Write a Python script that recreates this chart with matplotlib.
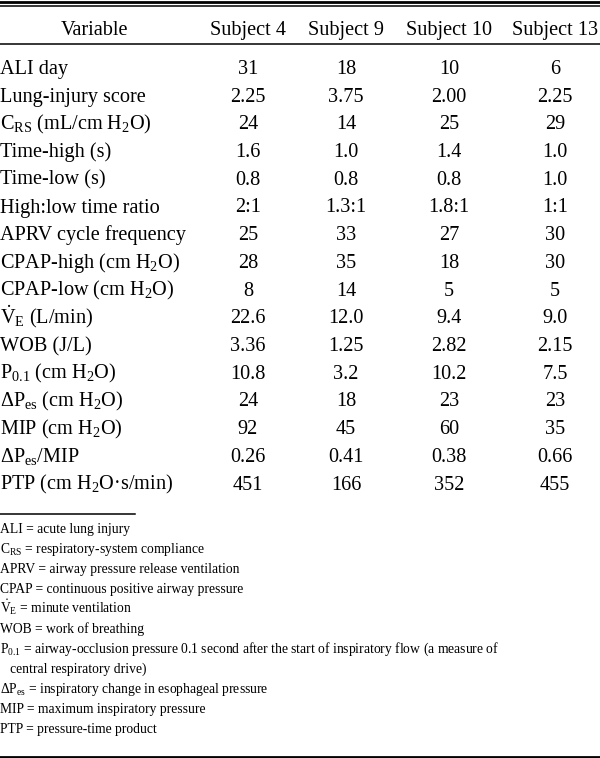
import matplotlib
matplotlib.use("Agg")
import matplotlib.pyplot as plt

plt.rcParams['font.family'] = ['Liberation Serif', 'DejaVu Serif']
plt.rcParams['mathtext.fontset'] = 'custom'
plt.rcParams['mathtext.rm'] = 'Liberation Serif'
plt.rcParams['mathtext.it'] = 'Liberation Serif:italic'
plt.rcParams['mathtext.bf'] = 'Liberation Serif:bold'

# column headers
headers = ['Variable', 'Subject 4', 'Subject 9', 'Subject 10', 'Subject 13']

# row labels
variables = [
    'ALI day',
    'Lung-injury score',
    r'C$_{\mathrm{RS}}$ (mL/cm H$_{2}$O)',
    'Time-high (s)',
    'Time-low (s)',
    'High:low time ratio',
    'APRV cycle frequency',
    r'CPAP-high (cm H$_{2}$O)',
    r'CPAP-low (cm H$_{2}$O)',
    r'$\dot{\mathrm{V}}_{\mathrm{E}}$ (L/min)',
    'WOB (J/L)',
    r'P$_{0.1}$ (cm H$_{2}$O)',
    r'ΔP$_{\mathrm{es}}$ (cm H$_{2}$O)',
    r'MIP (cm H$_{2}$O)',
    r'ΔP$_{\mathrm{es}}$/MIP',
    r'PTP (cm H$_{2}$O·s/min)',
]

# values per subject (kept as printed)
subject4 = ['31', '2.25', '24', '1.6', '0.8', '2:1', '25', '28', '8', '22.6',
            '3.36', '10.8', '24', '92', '0.26', '451']
subject9 = ['18', '3.75', '14', '1.0', '0.8', '1.3:1', '33', '35', '14', '12.0',
            '1.25', '3.2', '18', '45', '0.41', '166']
subject10 = ['10', '2.00', '25', '1.4', '0.8', '1.8:1', '27', '18', '5', '9.4',
             '2.82', '10.2', '23', '60', '0.38', '352']
subject13 = ['6', '2.25', '29', '1.0', '1.0', '1:1', '30', '30', '5', '9.0',
             '2.15', '7.5', '23', '35', '0.66', '455']

# footnotes (abbreviations)
footnotes = [
    'ALI = acute lung injury',
    r'C$_{\mathrm{RS}}$ = respiratory-system compliance',
    'APRV = airway pressure release ventilation',
    'CPAP = continuous positive airway pressure',
    r'$\dot{\mathrm{V}}_{\mathrm{E}}$ = minute ventilation',
    'WOB = work of breathing',
    r'P$_{0.1}$ = airway-occlusion pressure 0.1 second after the start of inspiratory flow (a measure of',
    '   central respiratory drive)',
    r'ΔP$_{\mathrm{es}}$ = inspiratory change in esophageal pressure',
    'MIP = maximum inspiratory pressure',
    'PTP = pressure-time product',
]

W, H = 600, 758
fig = plt.figure(figsize=(W / 100, H / 100), dpi=100)
fig.patch.set_facecolor('white')


def px(x, y):
    return x / W, 1 - y / H


def hline(y, x0=0, x1=W, lw=1.0):
    fig.add_artist(plt.Line2D([x0 / W, x1 / W], [1 - y / H, 1 - y / H],
                              color='black', lw=lw, transform=fig.transFigure))


# rules
hline(1.5, lw=2.0)
hline(6, lw=1.1)
hline(43.5, lw=1.1)
hline(514, 0, 135, lw=1.1)
hline(756.5, lw=2.0)

fs = 14.6
col_x = [95, 248, 346, 449, 555]

# header
for cx, h in zip(col_x, headers):
    fig.text(*px(cx, 35), h, ha='center', va='baseline', fontsize=fs)

# body
columns = [subject4, subject9, subject10, subject13]
row0, dy = 74, 27.7
for i, var in enumerate(variables):
    y = row0 + i * dy
    fig.text(*px(0, y), var, ha='left', va='baseline', fontsize=fs)
    for cx, col in zip(col_x[1:], columns):
        fig.text(*px(cx, y), col[i], ha='center', va='baseline', fontsize=fs)

# footnotes
f0, fdy = 533.5, 19.95
for i, note in enumerate(footnotes):
    fig.text(*px(0, f0 + i * fdy), note, ha='left', va='baseline', fontsize=9.8)

fig.savefig('out.png', dpi=100, facecolor='white')
